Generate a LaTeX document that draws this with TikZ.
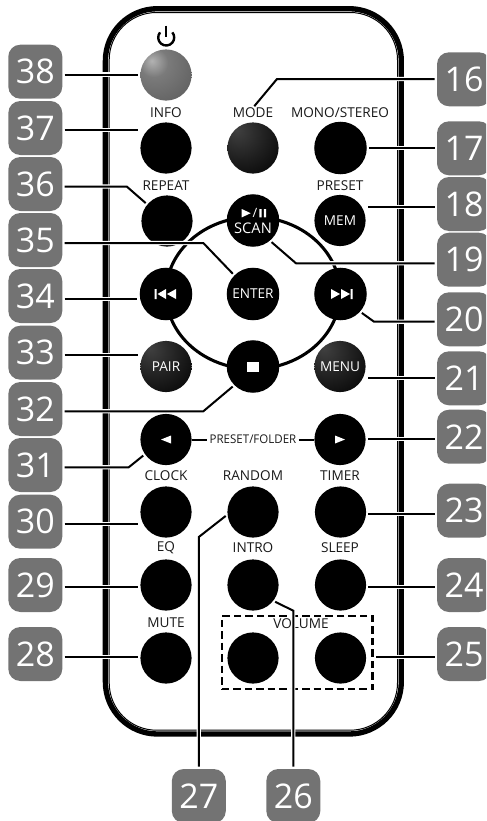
\documentclass[tikz,border=0pt]{standalone}
\usepackage{fontspec}
\setmainfont{Open Sans}
\definecolor{pwa}{gray}{0.72}
\pgfdeclareradialshading{pwshade}{\pgfpoint{-14bp}{14bp}}{color(0bp)=(black!30!white); color(14bp)=(black!52!white); color(40bp)=(black!62!white); color(62bp)=(black!72!white); color(100bp)=(black!80!white)}
\pgfdeclareradialshading{darkshade}{\pgfpoint{-16bp}{18bp}}{color(0bp)=(black!75!white); color(25bp)=(black!88!white); color(50bp)=(black); color(100bp)=(black)}
\tikzset{
  btn/.style={circle,fill=black,inner sep=0pt,minimum size=38.4pt,text=white,font=\fontsize{10.2}{11}\selectfont,align=center},
  btnbig/.style={btn,minimum size=39.4pt},
  glossy/.style={btn,fill=none,shading=darkshade},
  badge/.style={rectangle,rounded corners=9pt,fill=black!55,text=white,minimum size=40.5pt,inner sep=0pt,font=\fontsize{25.5}{26}\selectfont},
  lbl/.style={inner sep=0pt,text=black!90,font=\fontsize{10.2}{11}\selectfont},
  lead/.style={draw=black,line width=1.5pt,preaction={draw=white,line width=3.2pt},shorten <=1.6pt,shorten >=1.5pt},
  ring/.style={draw=black,line width=2.3pt}
}
\begin{document}
\begin{tikzpicture}[x=0.75pt,y=-0.75pt]
\useasboundingbox (0,0) rectangle (486,821);
\begin{scope}
\clip (0,0) rectangle (486,821);
% remote body
\draw[black,line width=4pt,rounded corners=39pt] (105.4,8.7) rectangle (401.3,734);
\draw[black,line width=0.75pt,rounded corners=35.5pt] (109.2,12.5) rectangle (397.5,730.2);
% ring of the navigation cross
\coordinate (rc) at (253,293);
\draw[ring] (rc) ellipse [x radius=87,y radius=76];
% buttons
\node[btn,fill=none,shading=pwshade] (p38) at (166,75) {};
\node[btn] (p37) at (166,148) {};
\node[glossy] (p16) at (253,148) {};
\node[btnbig] (p17) at (340.5,148) {};
\node[btn] (p36) at (167,221) {};
\node[btn] (p18) at (340,220.5) {MEM};
\node[btnbig] (p19) at (253,220.5) {};
\node[btnbig] (p35) at (253,294) {ENTER};
\node[btnbig] (p34) at (166,294) {};
\node[btnbig] (p20) at (340.5,294) {};
\node[glossy] (p33) at (166,366.5) {PAIR};
\node[btnbig] (p32) at (253,366.5) {};
\node[glossy] (p21) at (340,366.5) {MENU};
\node[btn] (p31) at (166,439.5) {};
\node[btn] (p22) at (340,439.5) {};
\node[btn] (p30) at (166,512) {};
\node[btn] (p27) at (253,512) {};
\node[btn] (p23) at (340.5,512) {};
\node[btn] (p29) at (166,585) {};
\node[btn] (p26) at (253,585) {};
\node[btn] (p24) at (340.5,585) {};
\node[btn] (p28) at (166,658) {};
\node[btn] (p25a) at (253,658) {};
\node[btn] (p25) at (340.5,658) {};
% glyphs on buttons
\node[inner sep=0pt,text=white,font=\fontsize{11}{12}\selectfont,align=center] (scan) at (253,228.5) {SCAN};
\fill[white] (241.7,209) -- (250.7,213.2) -- (241.7,217.4) -- cycle;
\node[inner sep=0pt,text=white,font=\fontsize{9.6}{10}\selectfont] (slash) at (255,213.2) {/};
\fill[white] (259.4,209) rectangle (261.6,217.4) (263.8,209) rectangle (266,217.4);
\fill[white] (154.5,289) rectangle (156.5,299) (166,289) -- (157.5,294) -- (166,299) -- cycle (176,289) -- (167,294) -- (176,299) -- cycle;
\fill[white] (331,289) -- (340,294) -- (331,299) -- cycle (341,289) -- (350,294) -- (341,299) -- cycle (350.7,289) rectangle (352.7,299);
\fill[white] (247.3,361.5) rectangle (259,372);
\fill[white] (171,435.5) -- (161,439.5) -- (171,443.5) -- cycle;
\fill[white] (335,435.5) -- (345,439.5) -- (335,443.5) -- cycle;
% power symbol
\draw[black,line width=1.8pt] (160.07,32.36) arc [start angle=220,end angle=-40,radius=8];
\draw[black,line width=1.9pt] (166.2,25.5) -- (166.2,37);
% captions
\node[lbl] (t37) at (166,113) {INFO};
\node[lbl] (t16) at (253,113) {MODE};
\node[lbl] (t17) at (340,113) {MONO/STEREO};
\node[lbl] (t36) at (166,186) {REPEAT};
\node[lbl] (t18) at (340,186) {PRESET};
\node[lbl,font=\fontsize{9}{10}\selectfont,xscale=.96] (t22) at (253,439.5) {PRESET/FOLDER};
\node[lbl] (t30) at (166,476) {CLOCK};
\node[lbl] (t27) at (253,476) {RANDOM};
\node[lbl] (t23) at (340,476) {TIMER};
\node[lbl] (t29) at (166,548) {EQ};
\node[lbl] (t26) at (253,548) {INTRO};
\node[lbl] (t24) at (340,548) {SLEEP};
\node[lbl] (t28) at (166,623) {MUTE};
\node[lbl] (t25) at (301,623.5) {VOLUME};
% dashed frame
\node[draw=black,line width=1.6pt,dash pattern=on 5.6pt off 3pt,minimum width=113pt,minimum height=55pt,inner sep=0pt] (vol) at (297.2,652.7) {};
\draw[black,line width=1.5pt,shorten >=1.5pt] (p31.east) -- (t22.west);
\draw[black,line width=1.5pt,shorten <=1.5pt] (t22.east) -- (p22.west);
% badges
\node[badge] (b38) at (35.3,71.7) {38};
\node[badge] (b37) at (35.3,128) {37};
\node[badge] (b36) at (35.3,184) {36};
\node[badge] (b35) at (35.3,240) {35};
\node[badge] (b34) at (35.3,296) {34};
\node[badge] (b33) at (35.3,352.7) {33};
\node[badge] (b32) at (35.3,409) {32};
\node[badge] (b31) at (35.3,465) {31};
\node[badge] (b30) at (35.3,521.7) {30};
\node[badge] (b29) at (35.3,585) {29};
\node[badge] (b28) at (35.3,654) {28};
\node[badge] (b16) at (464,79.3) {16};
\node[badge] (b17) at (464,148.3) {17};
\node[badge] (b18) at (464,204) {18};
\node[badge] (b19) at (464,259.7) {19};
\node[badge] (b20) at (464,319.3) {20};
\node[badge] (b21) at (464,378.3) {21};
\node[badge] (b22) at (464,436.7) {22};
\node[badge] (b23) at (464,510.7) {23};
\node[badge] (b24) at (464,585) {24};
\node[badge] (b25) at (464,654) {25};
\node[badge] (b27) at (198.8,796) {27};
\node[badge] (b26) at (293.3,796) {26};
% leaders
\draw[lead] (b38.east |- 0,74.5) -- (p38.west |- 0,74.5);
\draw[lead] (b37.east |- 0,130) -- (p37.west |- 0,130);
\draw[lead] (b36.east |- 0,186.5) -- (126.7,186.5) -- (p36.140);
\draw[lead] (b35.east |- 0,243) -- (203.3,243) -- (p35.135);
\draw[lead] (b34.east |- 0,299) -- (p34.west |- 0,299);
\draw[lead] (b33.east |- 0,355) -- (p33.west |- 0,355);
\draw[lead] (b32.east |- 0,411.3) -- (203.3,411.3) -- (p32.225);
\draw[lead] (b31.east |- 0,467.3) -- (128.7,467.3) -- (p31.215);
\draw[lead] (b30.east |- 0,524) -- (p30.west |- 0,524);
\draw[lead] (b29.east |- 0,587.3) -- (p29.west |- 0,587.3);
\draw[lead] (b28.east |- 0,656.7) -- (p28.west |- 0,656.7);
\draw[lead] (b16.west |- 0,79) -- (277,79) -- (t16.north);
\draw[lead] (b17.west |- 0,148) -- (p17.east |- 0,148);
\draw[lead] (b18.west |- 0,206.7) -- (p18.east |- 0,206.7);
\draw[lead] (b19.west |- 0,263.3) -- (296,263.3) -- (p19.-50);
\draw[lead] (b20.west |- 0,321.7) -- (374,321.7) -- (p20.-42);
\draw[lead] (b21.west |- 0,378) -- (p21.east |- 0,378);
\draw[lead] (b22.west |- 0,439.3) -- (p22.east |- 0,439.3);
\draw[lead] (b23.west |- 0,513.7) -- (p23.east |- 0,513.7);
\draw[lead] (b24.west |- 0,587.3) -- (p24.east |- 0,587.3);
\draw[lead] (b25.west |- 0,656.7) -- (vol.east |- 0,656.7);
\draw[lead] (b27.north) -- (b27.north |- 0,537) -- (p27.186);
\draw[lead] (b26.north) -- (b26.north |- 0,610.7) -- (p26.-38);
\end{scope}
\end{tikzpicture}
\end{document}
